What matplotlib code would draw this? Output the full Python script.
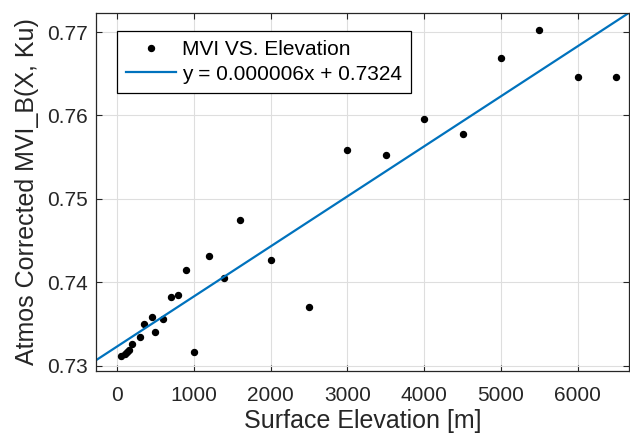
import numpy as np
import matplotlib.pyplot as plt

# ========== DATA ==========
elevation = [50, 100, 130, 160, 200, 300, 350, 450, 500, 600, 700, 800, 900,
             1000, 1200, 1400, 1600, 2000, 2500, 3000, 3500, 4000, 4500,
             5000, 5500, 6000, 6500]
mvi = [0.7312, 0.73145, 0.7317, 0.73185, 0.7326, 0.7334, 0.7350, 0.7358,
       0.7340, 0.7356, 0.7382, 0.7385, 0.7415, 0.7316, 0.7431, 0.7405,
       0.7475, 0.7427, 0.7371, 0.7558, 0.7553, 0.7596, 0.7578, 0.7669,
       0.7703, 0.7646, 0.7646]
fit_slope = 0.000006
fit_intercept = 0.7323
fit_label = "y = 0.000006x + 0.7324"
# ==========================

plt.rcParams["font.family"] = ["Liberation Sans", "DejaVu Sans"]

fig = plt.figure(figsize=(6.3, 4.43), dpi=100)
ax = fig.add_axes([0.1524, 0.1625, 0.8460, 0.8082])

xlim = (-273, 6667)
ax.plot(elevation, mvi, "o", color="black", markersize=4.3, label="MVI VS. Elevation")
xx = np.array(xlim)
ax.plot(xx, fit_slope * xx + fit_intercept, color="#0072BD", linewidth=1.6, label=fit_label)

ax.set_xlim(*xlim)
ax.set_ylim(0.72937, 0.77228)
ax.set_xticks([0, 1000, 2000, 3000, 4000, 5000, 6000])
ax.set_yticks([0.73, 0.74, 0.75, 0.76, 0.77])
ax.set_yticklabels(["0.73", "0.74", "0.75", "0.76", "0.77"])

ax.grid(True, color="#dedede", linewidth=0.8)
ax.set_axisbelow(True)
ax.tick_params(direction="in", top=True, right=True, labelsize=15,
               colors="#262626", length=4, width=0.8)
ax.tick_params(axis="x", pad=11)
ax.tick_params(axis="y", pad=6)
for s in ax.spines.values():
    s.set_color("#262626")
    s.set_linewidth(0.9)

ax.set_xlabel("Surface Elevation [m]", fontsize=18, color="#262626", labelpad=3)
ax.set_ylabel("Atmos Corrected MVI_B(X, Ku)", fontsize=18, color="#262626", labelpad=6)

leg = ax.legend(loc="upper left", bbox_to_anchor=(0.0394, 0.9497), fontsize=15,
                fancybox=False, edgecolor="black", framealpha=1,
                borderaxespad=0, handlelength=2.4, handletextpad=0.25,
                borderpad=0.45, labelspacing=0.25)
leg.get_frame().set_linewidth(0.9)

fig.savefig("out.png", dpi=100)
